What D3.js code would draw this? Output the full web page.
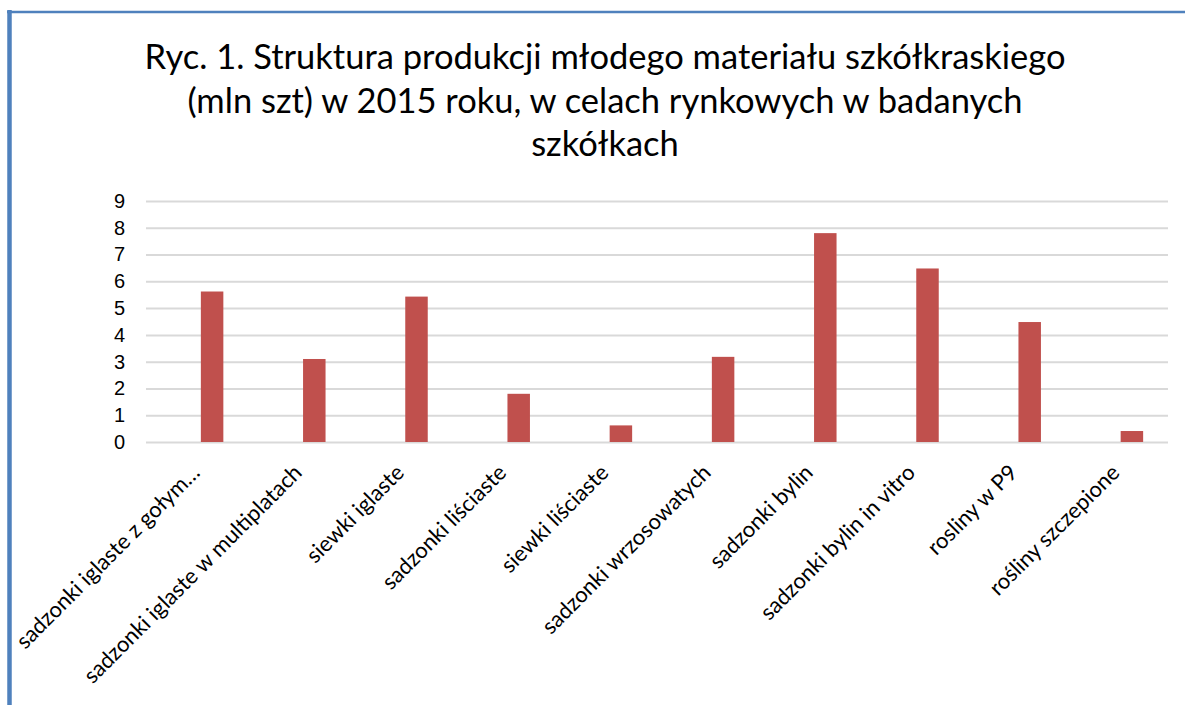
<!DOCTYPE html>
<html>
<head>
<meta charset="utf-8">
<script src="https://cdn.jsdelivr.net/npm/d3@7"></script>
<style>
  html, body { margin: 0; padding: 0; background: #fff; }
  svg { display: block; font-family: Lato, "Open Sans", sans-serif; }
  .grid line { stroke: #d9d9d9; stroke-width: 2; }
  .grid path { display: none; }
  .yaxis path, .yaxis line { display: none; }
  .yaxis text { font-size: 20px; fill: #000; }
  .xlab { font-size: 22px; fill: #000; }
</style>
</head>
<body>
<svg width="1185" height="705"></svg>
<script>
// dane z wykresu (mln szt)
const categories = [
  "sadzonki iglaste z gołym…",
  "sadzonki iglaste w multiplatach",
  "siewki iglaste",
  "sadzonki liściaste",
  "siewki liściaste",
  "sadzonki wrzosowatych",
  "sadzonki bylin",
  "sadzonki bylin in vitro",
  "rosliny w P9",
  "rośliny szczepione"
]
const values = [5.62, 3.10, 5.43, 1.80, 0.62, 3.18, 7.80, 6.48, 4.48, 0.41]
const yTicks = [0, 1, 2, 3, 4, 5, 6, 7, 8, 9]
const titleLines = [
  "Ryc. 1. Struktura produkcji młodego materiału szkółkraskiego",
  "(mln szt) w 2015 roku, w celach rynkowych w badanych",
  "szkółkach"
]

const svg = d3.select('svg')

// ramka (niebieska linia z lewej i u góry)
svg.append('line')
  .attr('x1', 9.5).attr('x2', 9.5).attr('y1', 10).attr('y2', 705)
  .attr('stroke', '#4f81bd').attr('stroke-width', 4.5)
svg.append('line')
  .attr('x1', 7).attr('x2', 1185).attr('y1', 12).attr('y2', 12)
  .attr('stroke', '#4f81bd').attr('stroke-width', 2.5)

// tytuł
svg.append('text')
  .attr('text-anchor', 'middle')
  .style('font-size', '34.5px')
  .selectAll('tspan')
  .data(titleLines)
  .enter()
  .append('tspan')
  .attr('x', 605)
  .attr('y', (d, i) => 69 + i * 43.5)
  .text(d => d)

const gridLeft = 146, gridRight = 1168
const plotBottom = 442, plotTop = 201

const xScale = d3.scaleBand()
  .range([161, 1183])
  .domain(categories)
  .paddingInner(0.78)
  .paddingOuter(0.39)

const yScale = d3.scaleLinear()
  .range([plotBottom, plotTop])
  .domain([0, 9])

// linie siatki
svg.append('g')
  .attr('class', 'grid')
  .attr('transform', `translate(${gridLeft}, 0)`)
  .call(d3.axisLeft(yScale)
    .tickValues(yTicks)
    .tickSize(-(gridRight - gridLeft))
    .tickFormat(''))

// oś Y
svg.append('g')
  .attr('class', 'yaxis')
  .attr('transform', `translate(125, 0)`)
  .call(d3.axisLeft(yScale).tickValues(yTicks).tickSize(0).tickPadding(0))

// słupki
svg.append('g')
  .selectAll('rect')
  .data(values)
  .enter()
  .append('rect')
  .attr('x', (d, i) => xScale(categories[i]))
  .attr('y', d => yScale(d))
  .attr('width', xScale.bandwidth())
  .attr('height', d => plotBottom - yScale(d))
  .attr('fill', '#c0504d')

// etykiety kategorii
svg.append('g')
  .selectAll('text')
  .data(categories)
  .enter()
  .append('text')
  .attr('class', 'xlab')
  .attr('text-anchor', 'end')
  .attr('transform', d => `translate(${xScale(d) + xScale.bandwidth() / 2 - 11}, 474) rotate(-45)`)
  .text(d => d)
</script>
</body>
</html>
